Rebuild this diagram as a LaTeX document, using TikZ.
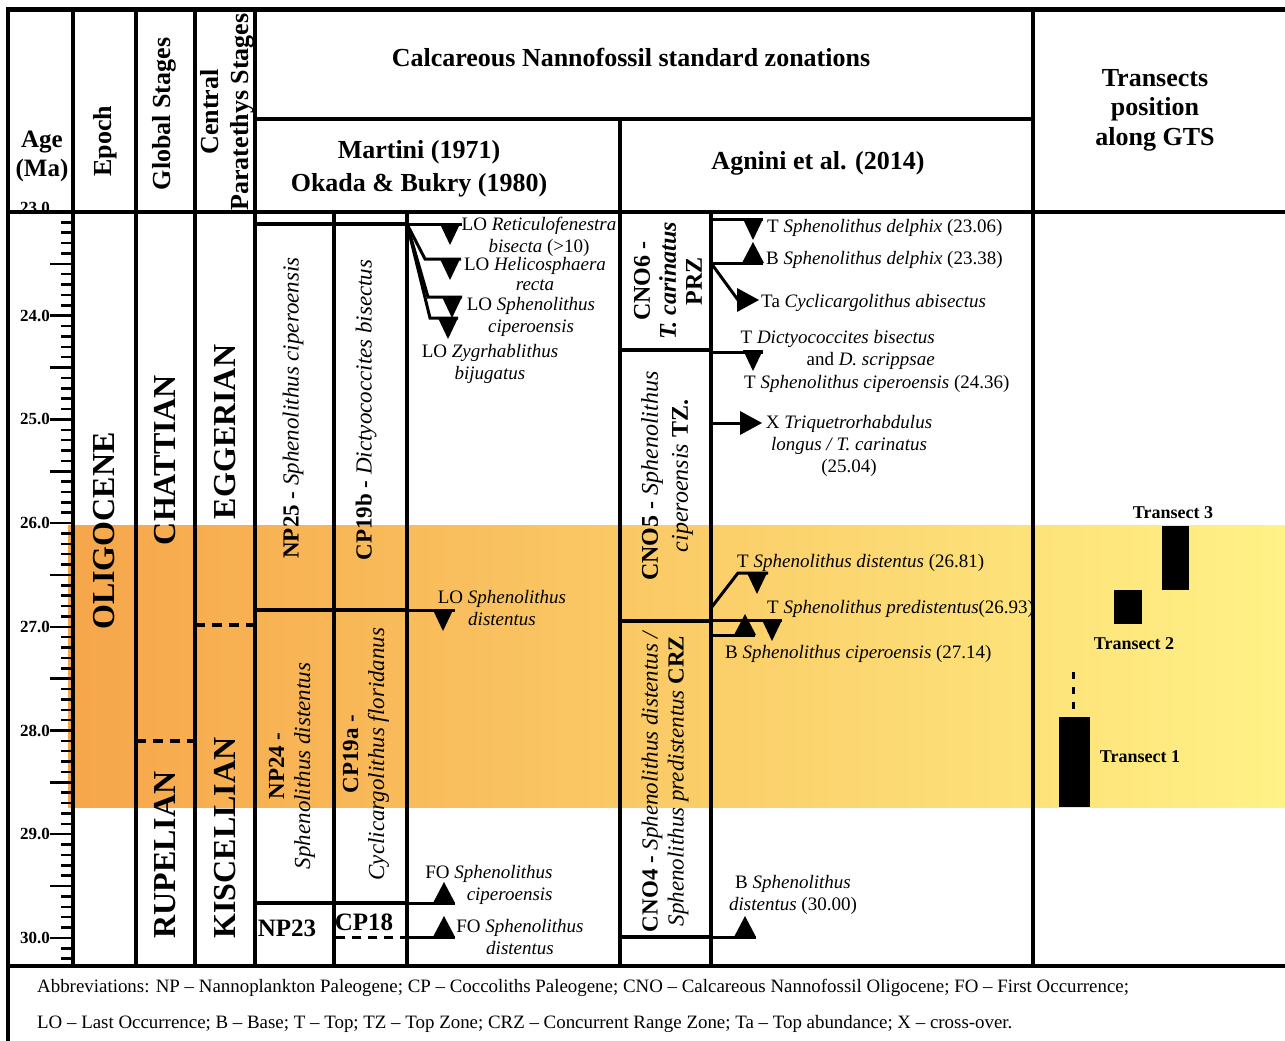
\documentclass[tikz,border=0pt]{standalone}
\usepackage{fontspec}
\setmainfont{Liberation Serif}
\usetikzlibrary{calc}
\definecolor{bandL}{RGB}{246,166,74}
\definecolor{bandM}{RGB}{252,200,96}
\definecolor{bandR}{RGB}{255,242,134}
% event markers: x of tip, y of the event line
\newcommand\evdown[2]{%
  \fill (#1-10,#2) -- (#1+10,#2) -- (#1,#2+21) -- cycle
}
\newcommand\evup[2]{%
  \fill (#1-11,#2) -- (#1+11,#2) -- (#1,#2-21) -- cycle
}
\newcommand\evright[2]{%
  \fill (#1,#2-12) -- (#1,#2+12) -- (#1+22,#2) -- cycle
}
\tikzset{
  grid/.style={line width=4pt},
  evline/.style={line width=3pt},
  hdr/.style={font=\fontsize{26}{30}\selectfont\bfseries, align=center, inner sep=0pt},
  stage/.style={font=\fontsize{32}{36}\selectfont\bfseries, rotate=90, inner sep=0pt},
  zone/.style={font=\fontsize{23}{26}\selectfont, rotate=90, align=center, inner sep=0pt},
  ev/.style={font=\fontsize{19}{22}\selectfont, align=center, inner sep=0pt},
  agelbl/.style={font=\fontsize{17}{20}\selectfont\bfseries, anchor=east, inner sep=0pt},
  trlbl/.style={font=\fontsize{18}{20}\selectfont\bfseries, inner sep=0pt},
  abbr/.style={font=\fontsize{18.9}{22}\selectfont, anchor=west, inner sep=0pt},
}

\begin{document}
\begin{tikzpicture}[x=1pt,y=-1pt]
        \useasboundingbox (0,0) rectangle (1285,1041);
        % Highlighted interval
        \shade[left color=bandL, middle color=bandM, right color=bandR] (68,525) rectangle (1285,807);
        \node[agelbl] (age23) at (50,208) {23.0};

        % Frame and columns
        \draw[line width=5pt] (6,10) -- (1285,10);
        \draw[grid] (8,8) -- (8,1041);
        \draw[grid] (8,212) -- (1285,212);
        \draw[grid] (8,966) -- (1285,966);
        \draw[grid] (255,119) -- (1033,119);
        \foreach \x in {73,136,195,255,1033}
          \draw[grid] (\x,12) -- (\x,966);
        \foreach \x in {334,407,711}
          \draw[grid] (\x,212) -- (\x,966);
        \draw[grid] (620,119) -- (620,966);

        % Age scale
        \foreach \i in {0,...,72} {
          \pgfmathsetmacro\ty{212+\i*10.37}
          \pgfmathsetmacro\tl{ifthenelse(mod(\i,5)==0,50,61)}
          \draw[line width=2.5pt] (\tl,\ty) -- (73,\ty);
        }
        \foreach \a in {24,...,30}
          \node[agelbl] (age\a) at (50,{212+(\a-23)*103.7}) {\a.0};

        % Headers
        \node[hdr, font=\fontsize{25}{29}\selectfont\bfseries] (hAge) at (42,156) {Age\\(Ma)};
        \node[hdr, rotate=90] (hEpoch) at (105,141) {Epoch};
        \node[hdr, rotate=90] (hGlobal) at (164,114) {Global Stages};
        \node[hdr, rotate=90] (hCentral) at (227,112) {Central\\Paratethys Stages};
        \node[hdr] (hCalc) at (631,58) {Calcareous Nannofossil standard zonations};
        \node[hdr, font=\fontsize{26}{33}\selectfont\bfseries] (hMartini) at (419,169) {Martini (1971)\\Okada \& Bukry (1980)};
        \node[hdr] (hAgnini) at (818,163) {Agnini et al. (2014)};
        \node[hdr, font=\fontsize{26}{29.5}\selectfont\bfseries] (hTrans) at (1155,110) {Transects\\position\\along GTS};

        % Epoch and stages
        \node[stage] (oligocene) at (104,531) {OLIGOCENE};
        \node[stage] (chattian) at (165,460) {CHATTIAN};
        \node[stage] (rupelian) at (165,855) {RUPELIAN};
        \node[stage] (eggerian) at (225,432) {EGGERIAN};
        \node[stage] (kiscellian) at (225,838) {KISCELLIAN};
        \draw[grid, dash pattern=on 10pt off 7pt] (136,741) -- (195,741);
        \draw[grid, dash pattern=on 10pt off 7pt] (195,625) -- (255,625);

        % Martini (1971) / Okada & Bukry (1980)
        \draw[grid] (255,224) -- (407,224);
        \draw[grid] (255,610) -- (407,610);
        \draw[grid] (255,903) -- (407,903);
        \draw[line width=3pt, dash pattern=on 9pt off 7pt] (336,937) -- (405,937);
        \node[zone] (np25) at (293,408) {\textbf{NP25 -} \textit{Sphenolithus ciperoensis}};
        \node[zone] (cp19b) at (366,410) {\textbf{CP19b -} \textit{Dictyococcites bisectus}};
        \node[zone] (np24) at (292,766) {\textbf{NP24 -}\\\textit{Sphenolithus distentus}};
        \node[zone] (cp19a) at (366,754) {\textbf{CP19a -}\\\textit{Cyclicargolithus floridanus}};
        \node[font=\fontsize{25}{28}\selectfont\bfseries, inner sep=0pt] (np23) at (287,928) {NP23};
        \node[font=\fontsize{25}{28}\selectfont\bfseries, inner sep=0pt] (cp18) at (364,922) {CP18};

        % Martini events
        \draw[evline] (407,224) -- (462,224);
        \draw[evline] (407,224) -- (425,259) -- (461,259);
        \draw[evline] (407,224) -- (428,297) -- (462,297);
        \draw[evline] (407,224) -- (430,318) -- (458,318);
        \evdown{450}{224};
        \evdown{450}{259};
        \evdown{452}{297};
        \evdown{448}{318};
        \node[ev] (loRet) at (539,237) {LO \textit{Reticulofenestra}\\\textit{bisecta} (>10)};
        \node[ev, font=\fontsize{19}{20}\selectfont] (loHel) at (535,274) {LO \textit{Helicosphaera}\\\textit{recta}};
        \node[ev] (loScip) at (531,317) {LO \textit{Sphenolithus}\\\textit{ciperoensis}};
        \node[ev] (loZyg) at (490,364) {LO \textit{Zygrhablithus}\\\textit{bijugatus}};
        \draw[evline] (407,610) -- (455,610);
        \evdown{443}{610};
        \node[ev] (loSdis) at (502,608) {LO \textit{Sphenolithus}\\\textit{distentus}};
        \draw[evline] (407,903) -- (455,903);
        \evup{444}{903};
        \node[ev, align=right] (foScip) at (489,885) {FO \textit{Sphenolithus}\\\textit{ciperoensis}};
        \draw[evline] (407,937) -- (455,937);
        \evup{444}{937};
        \node[ev] (foSdis) at (520,937) {FO \textit{Sphenolithus}\\\textit{distentus}};

        % Agnini et al. (2014)
        \draw[grid] (620,350) -- (711,350);
        \draw[grid] (620,621) -- (711,621);
        \draw[grid] (620,937) -- (711,937);
        \node[zone, font=\fontsize{24}{26}\selectfont\bfseries] (cno6) at (668,281) {CNO6 -\\\textit{T. carinatus}\\PRZ};
        \node[zone, font=\fontsize{24}{30}\selectfont] (cno5) at (667,476) {\textbf{CNO5 -} \textit{Sphenolithus}\\\textit{ciperoensis} \textbf{TZ.}};
        \node[zone, font=\fontsize{23}{26}\selectfont] (cno4) at (665,781) {\textbf{CNO4 -} \textit{Sphenolithus distentus /}\\\textit{Sphenolithus predistentus} \textbf{CRZ}};

        % Agnini events
        \draw[evline] (711,219) -- (763,219);
        \evdown{753}{219};
        \draw[evline] (711,263) -- (763,263);
        \evup{753}{263};
        \draw[evline] (711,263) -- (738,300);
        \evright{737}{300};
        \draw[evline] (711,352) -- (763,352);
        \evdown{753}{350};
        \draw[evline] (711,423) -- (742,423);
        \evright{740}{423};
        \node[ev, anchor=west] (tSdel) at (767,228) {T \textit{Sphenolithus delphix} (23.06)};
        \node[ev, anchor=west] (bSdel) at (766,260) {B \textit{Sphenolithus delphix} (23.38)};
        \node[ev, anchor=west] (taCab) at (761,303) {Ta \textit{Cyclicargolithus abisectus}};
        \node[ev, anchor=east, align=right] (tDbis) at (935,350) {T \textit{Dictyococcites bisectus}\\and \textit{D. scrippsae}};
        \node[ev, anchor=west] (tScip) at (744,384) {T \textit{Sphenolithus ciperoensis} (24.36)};
        \node[ev] (xTri) at (849,446) {X \textit{Triquetrorhabdulus}\\\textit{longus / T. carinatus}\\(25.04)};
        \draw[evline] (711,608) -- (738,573) -- (768,573);
        \evdown{757}{573};
        \draw[evline] (711,620) -- (782,620);
        \evdown{772}{620};
        \draw[evline] (711,635) -- (755,635);
        \evup{745}{635};
        \draw[evline] (711,937) -- (756,937);
        \evup{745}{937};
        \node[ev, anchor=west] (tSdis) at (737,563) {T \textit{Sphenolithus distentus} (26.81)};
        \node[ev, anchor=west] (tSpre) at (767,609) {T \textit{Sphenolithus predistentus}(26.93)};
        \node[ev, anchor=west] (bScip) at (725,654) {B \textit{Sphenolithus ciperoensis} (27.14)};
        \node[ev] (bSdis) at (793,895) {B \textit{Sphenolithus}\\\textit{distentus} (30.00)};

        % Transects position along GTS
        \fill (1162,526) rectangle (1189,590);
        \fill (1114,590) rectangle (1142,624);
        \fill (1059,717) rectangle (1090,807);
        \draw[line width=3pt, dash pattern=on 7pt off 8pt] (1073,672) -- (1073,717);
        \node[trlbl] (tr3) at (1173,513) {Transect 3};
        \node[trlbl] (tr2) at (1134,644) {Transect 2};
        \node[trlbl] (tr1) at (1140,757) {Transect 1};

        % Abbreviations
        \node[abbr] (abbr1) at (37,988)
          {Abbreviations: NP -- Nannoplankton Paleogene; CP -- Coccoliths Paleogene; CNO -- Calcareous Nannofossil Oligocene; FO -- First Occurrence;};
        \node[abbr] (abbr2) at (37,1024)
          {LO -- Last Occurrence; B -- Base; T -- Top; TZ -- Top Zone; CRZ -- Concurrent Range Zone; Ta -- Top abundance; X -- cross-over.};
\end{tikzpicture}
\end{document}
